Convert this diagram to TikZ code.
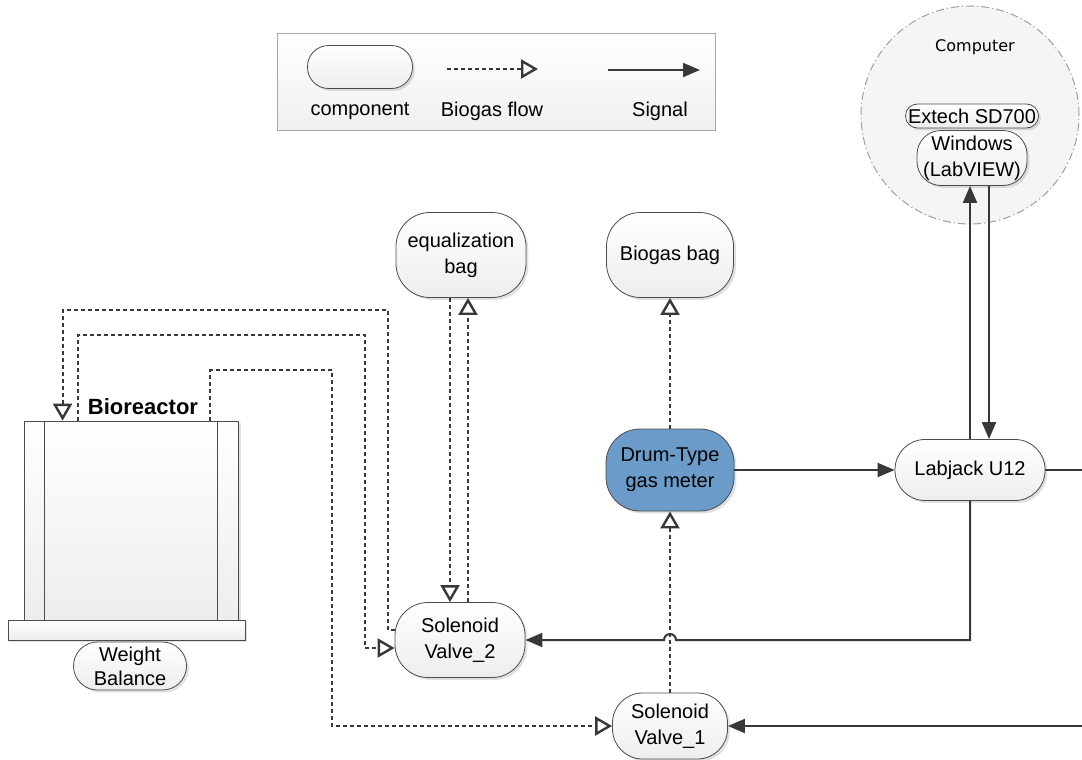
\documentclass[tikz,border=0pt]{standalone}
\usepackage{fontspec}
\setmainfont{Liberation Sans}
\newfontfamily\pcfont{DejaVu Sans}
\usetikzlibrary{arrows.meta,shadows}

\colorlet{lncol}{black!78}
\definecolor{meterblue}{RGB}{106,155,201}

\tikzset{
  comp/.style={draw=black!70, rounded corners=#1, top color=white, bottom color=gray!14,
    drop shadow={shadow xshift=1.2pt, shadow yshift=-1.2pt, fill=black!35, opacity=.35},
    align=center, inner sep=0pt, font=\fontsize{10}{13}\selectfont},
  comp/.default=16pt,
  flow/.style={draw=lncol, line width=1pt, dash pattern=on 2pt off 1.5pt,
    -{Triangle[open, length=8.5pt, width=9.5pt, line width=1.2pt]}},
  signal/.style={draw=lncol, line width=1pt, -{Triangle[length=8.5pt, width=7pt]}},
  legtext/.style={font=\fontsize{10}{12}\selectfont}
}

\begin{document}
\begin{tikzpicture}[x=0.5pt, y=-0.5pt]
    \useasboundingbox (0,0) rectangle (1082,760);

    % legend
    \draw[gray!70, top color=white, bottom color=gray!12] (277,33) rectangle (715,130);
    \node[comp=10.5pt, minimum width=52.5pt, minimum height=21.5pt] (lgcomp) at (360,67) {};
    \coordinate (lgflowA) at (447,69);
    \coordinate (lgflowB) at (538,69);
    \coordinate (lgsigA) at (608,70);
    \coordinate (lgsigB) at (700,70);
    \draw[flow] (lgflowA) -- (lgflowB);
    \draw[signal] (lgsigA) -- (lgsigB);
    \node[legtext] (lgtxtA) at (360,111) {component};
    \node[legtext] (lgtxtB) at (492,111) {Biogas flow};
    \node[legtext] (lgtxtC) at (660,111) {Signal};

    % computer
    \node[circle, draw=gray!75, fill=gray!8, line width=0.5pt,
          dash pattern=on 4pt off 1.5pt on 0.6pt off 1.5pt, minimum size=109pt] (pc) at (970,115) {};
    \node[font=\pcfont\fontsize{8}{10}\selectfont] (pclabel) at (975,47) {Computer};
    \node[comp=6pt, minimum width=66.5pt, minimum height=12pt] (extech) at (972,116) {Extech SD700};
    \node[comp=12pt, minimum width=55pt, minimum height=27.5pt] (win) at (972,158) {Windows\\(LabVIEW)};

    % components
    \node[comp=17pt, minimum width=65pt, minimum height=42.5pt] (eq) at (461,255) {equalization\\bag};
    \node[comp=17pt, minimum width=63.5pt, minimum height=42.5pt] (bag) at (670,255) {Biogas bag};
    \node[comp=17pt, minimum width=64pt, minimum height=41pt, top color=meterblue, bottom color=meterblue] (gm) at (670,470) {Drum-Type\\gas meter};
    \node[comp=15pt, minimum width=75pt, minimum height=30.5pt] (lab) at (970,470) {Labjack U12};
    \node[comp=16.5pt, minimum width=65pt, minimum height=37.5pt] (v2) at (460,640) {Solenoid\\Valve\_2};
    \node[comp=15pt, minimum width=57.5pt, minimum height=33pt] (v1) at (670,726) {Solenoid\\Valve\_1};

    % bioreactor on balance
    \node[draw=black!70, top color=white, bottom color=gray!14, inner sep=0pt,
          drop shadow={shadow xshift=1.5pt, shadow yshift=-1pt, fill=black!35, opacity=.35},
          minimum width=107pt, minimum height=99.5pt] (bio) at (131,520.5) {};
    \draw[black!70] ([xshift=10.5pt]bio.north west) -- ([xshift=10.5pt]bio.south west);
    \draw[black!70] ([xshift=-10.5pt]bio.north east) -- ([xshift=-10.5pt]bio.south east);
    \node[draw=black!70, top color=white, bottom color=gray!14, inner sep=0pt,
          drop shadow={shadow xshift=1.2pt, shadow yshift=-1.2pt, fill=black!35, opacity=.35},
          minimum width=118.5pt, minimum height=10pt] (plate) at (126.5,630) {};
    \node[comp=12pt, minimum width=56.5pt, minimum height=24pt, font=\fontsize{10}{12}\selectfont] (wb) at (130,666) {Weight\\Balance};
    \node[font=\bfseries\fontsize{11}{13}\selectfont] (biolabel) at (143,407) {Bioreactor};

    \coordinate (inA) at ([xshift=19.5pt]bio.north west);
    \coordinate (inB) at ([xshift=27pt]bio.north west);
    \coordinate (outC) at ([xshift=-14pt]bio.north east);
    \coordinate (edgeA) at (1082,470);
    \coordinate (edgeB) at (1082,726);

    % biogas flow
    \draw[flow] ([yshift=5pt]v2.west) -| (388,310) -| (inA);
    \draw[flow] (inB) |- (365,335) |- ([yshift=-4pt]v2.west);
    \draw[flow] (outC) |- (332,370) |- (v1.west);
    \draw[flow] ([xshift=-5.5pt]eq.south) -- ([xshift=-5.5pt]eq.south |- v2.north);
    \draw[flow] ([xshift=4pt]v2.north) -- ([xshift=4pt]v2.north |- eq.south);
    \draw[flow] (v1) -- (gm);
    \draw[flow] (gm) -- (bag);

    % signals
    \draw[signal] (gm.east) -- (gm.east -| lab.west);
    \draw[signal] (lab.north) -- (lab.north |- win.south);
    \draw[signal] ([xshift=9.5pt]lab.north |- win.south) -- ([xshift=9.5pt]lab.north);
    \draw[signal, -] (lab.east) -- (edgeA);
    \draw[signal] (lab.south) |- ([xshift=3pt]v1.north |- v2.east)
        arc[start angle=0, end angle=180, radius=3pt] -- (v2.east);
    \draw[signal] (edgeB) -- (v1.east);
\end{tikzpicture}
\end{document}
